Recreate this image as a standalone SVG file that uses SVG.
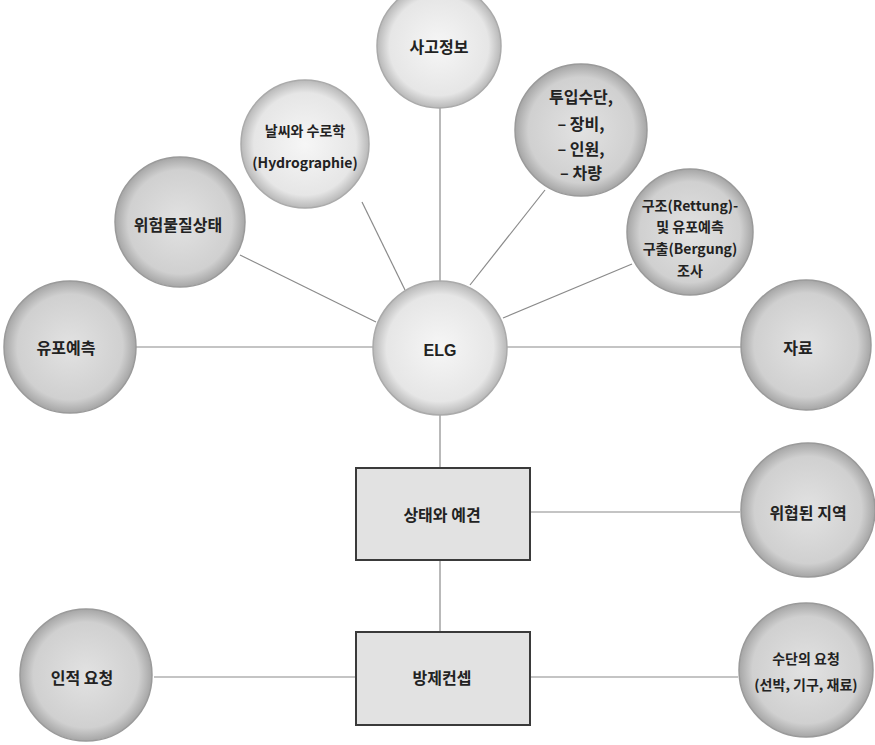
<svg xmlns="http://www.w3.org/2000/svg" width="875" height="745" viewBox="0 0 875 745">
<defs>
<radialGradient id="gDark" cx="50%" cy="50%" r="50%">
<stop offset="0%" stop-color="#e2e2e2"/>
<stop offset="80%" stop-color="#d0d0d0"/>
<stop offset="100%" stop-color="#a6a6a6"/>
</radialGradient>
<radialGradient id="gLight" cx="50%" cy="50%" r="50%">
<stop offset="0%" stop-color="#f6f6f6"/>
<stop offset="80%" stop-color="#e6e6e6"/>
<stop offset="100%" stop-color="#b8b8b8"/>
</radialGradient>
</defs>
<style>
.c{fill:url(#gDark);stroke:#9a9a9a;stroke-width:1.5}
.cl{fill:url(#gLight);stroke:#aaaaaa;stroke-width:1.5}
.b{fill:#e2e2e2;stroke:#3a3a3a;stroke-width:2}
.t{font-family:"Noto Sans CJK KR","Noto Sans",sans-serif;font-size:16px;font-weight:bold;fill:#222;text-anchor:middle;dominant-baseline:central}
.ts{font-size:14px}
.e{stroke:#8a8a8a;stroke-width:1.2;fill:none}
</style>
<rect width="875" height="745" fill="#fff"/>
<g id="connectors">
<line class="e" x1="440" y1="281" x2="440" y2="108"/>
<line class="e" x1="405" y1="290" x2="362" y2="202"/>
<line class="e" x1="470" y1="285" x2="545" y2="190"/>
<line class="e" x1="503" y1="318" x2="632" y2="264"/>
<line class="e" x1="376" y1="322" x2="240" y2="255"/>
<line class="e" x1="136" y1="347" x2="373" y2="347"/>
<line class="e" x1="507" y1="347" x2="742" y2="347"/>
<line class="e" x1="440" y1="415" x2="440" y2="468"/>
<line class="e" x1="530" y1="512" x2="740" y2="512"/>
<line class="e" x1="440" y1="560" x2="440" y2="632"/>
<line class="e" x1="154" y1="677" x2="355" y2="677"/>
<line class="e" x1="530" y1="677" x2="738" y2="677"/>
</g>
<g id="n-sago"><circle class="cl" cx="439" cy="46" r="62"/><text class="t" x="439" y="46">사고정보</text></g>
<g id="n-weather"><circle class="cl" cx="305" cy="144" r="64"/><text class="t ts" x="305" y="130">날씨와 수로학</text><text class="t ts" x="305" y="162">(Hydrographie)</text></g>
<g id="n-mittel"><circle class="c" cx="581" cy="130" r="66"/><text class="t" x="581" y="96">투입수단,</text><text class="t" x="581" y="123">– 장비,</text><text class="t" x="581" y="148">– 인원,</text><text class="t" x="581" y="172">– 차량</text></g>
<g id="n-rettung"><circle class="c" cx="690" cy="232" r="63"/><text class="t ts" x="690" y="205">구조(Rettung)-</text><text class="t ts" x="690" y="226">및 유포예측</text><text class="t ts" x="690" y="248">구출(Bergung)</text><text class="t ts" x="690" y="270">조사</text></g>
<g id="n-gefahr"><circle class="c" cx="180" cy="222" r="65"/><text class="t" x="178" y="224">위험물질상태</text></g>
<g id="n-prognose"><circle class="c" cx="70" cy="347" r="66"/><text class="t" x="66" y="347">유포예측</text></g>
<g id="n-elg"><circle class="cl" cx="440" cy="348" r="67"/><text class="t" x="440" y="350" style="font-family:'Liberation Sans',sans-serif">ELG</text></g>
<g id="n-daten"><circle class="c" cx="806" cy="345" r="65"/><text class="t" x="798" y="347">자료</text></g>
<g id="n-gebiet"><circle class="c" cx="808" cy="510" r="67"/><text class="t" x="808" y="512">위협된 지역</text></g>
<g id="n-lage"><rect class="b" x="356" y="468" width="174" height="92"/><text class="t" x="442" y="514">상태와 예견</text></g>
<g id="n-konzept"><rect class="b" x="356" y="632" width="174" height="93"/><text class="t" x="442" y="677">방제컨셉</text></g>
<g id="n-personal"><circle class="c" cx="86" cy="675" r="66"/><text class="t" x="82" y="677">인적 요청</text></g>
<g id="n-mittelanf"><circle class="c" cx="806" cy="670" r="67"/><text class="t ts" x="806" y="658">수단의 요청</text><text class="t ts" x="806" y="684">(선박, 기구, 재료)</text></g>
</svg>
